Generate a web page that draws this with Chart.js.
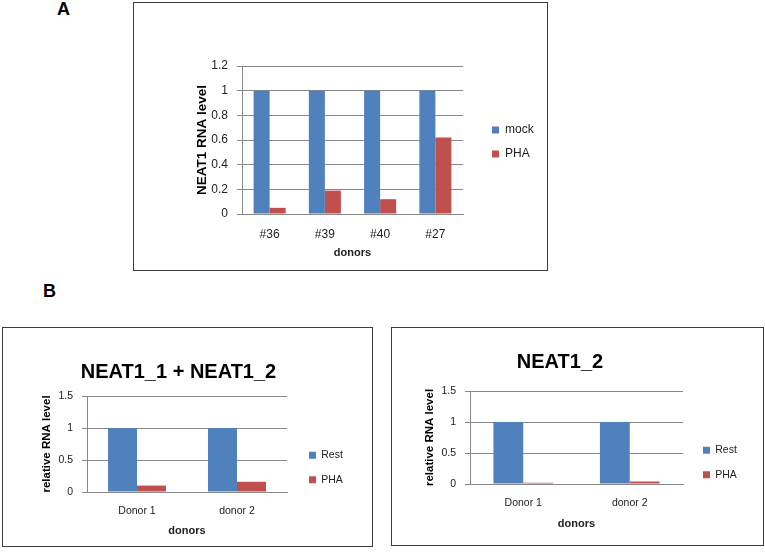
<!DOCTYPE html>
<html>
<head>
<meta charset="utf-8">
<script src="https://cdn.jsdelivr.net/npm/chart.js@4"></script>
<style>
  body { margin: 0; background: #fff; font-family: "Liberation Sans", Arial, sans-serif; }
  .frame { position: absolute; box-sizing: border-box; border: 1px solid #3c3c3c; }
  .panel { position: absolute; font-weight: bold; font-size: 18px; line-height: 18px; color: #000; }
  canvas { position: absolute; }
</style>
</head>
<body>
<div class="panel" style="left:57px; top:0px;">A</div>
<div class="panel" style="left:43px; top:282px;">B</div>

<div class="frame" style="left:133px; top:2px; width:415px; height:269px;"></div>
<canvas id="chartA" width="413" height="267" style="left:134px; top:3px;"></canvas>

<div class="frame" style="left:2px; top:327px; width:371px; height:220px;"></div>
<canvas id="chartB1" width="369" height="218" style="left:3px; top:328px;"></canvas>

<div class="frame" style="left:391px; top:327px; width:373px; height:219px;"></div>
<canvas id="chartB2" width="371" height="217" style="left:392px; top:328px;"></canvas>

<script>
// panel A
const donorsA = ["#36", "#39", "#40", "#27"];
const mockA = [1, 1, 1, 1];
const phaA = [0.05, 0.19, 0.12, 0.62];
const yTicksA = ["0", "0.2", "0.4", "0.6", "0.8", "1", "1.2"];

// panel B
const donorsB = ["Donor 1", "donor 2"];
const restB1 = [1, 1];
const phaB1 = [0.1, 0.16];
const restB2 = [1, 1];
const phaB2 = [0.02, 0.04];
const yTicksB = ["0", "0.5", "1", "1.5"];

const BLUE = "#4F81BD";
const RED = "#C0504D";
const GRID = "#888888";
const FONT = "'Liberation Sans', Arial, sans-serif";

// moves title / legend to where the original figure has them
function placeBoxes(titleShift, legendLeft, legendTop) {
  return {
    id: "placeBoxes",
    afterLayout(chart) {
      const t = chart.titleBlock;
      if (t && titleShift) {
        t.left += titleShift;
        t.right += titleShift;
      }
      const lg = chart.legend;
      if (lg) {
        const w = lg.width;
        lg.left = legendLeft;
        lg.right = legendLeft + w;
        lg.top = legendTop;
        lg.bottom = legendTop + 200;
      }
    }
  };
}

function makeChart(id, cfg) {
  const yLabels = cfg.yLabels;
  return new Chart(document.getElementById(id), {
    type: "bar",
    data: {
      labels: cfg.labels,
      datasets: [
        { label: cfg.names[0], data: cfg.series[0], backgroundColor: BLUE, borderWidth: 0 },
        { label: cfg.names[1], data: cfg.series[1], backgroundColor: RED, borderWidth: 0 }
      ]
    },
    options: {
      responsive: false,
      animation: false,
      events: [],
      categoryPercentage: cfg.catPct,
      barPercentage: 1,
      layout: { padding: cfg.padding },
      plugins: {
        tooltip: { enabled: false },
        title: {
          display: !!cfg.title,
          text: cfg.title || "",
          color: "#000",
          font: { family: FONT, size: 20, weight: "bold" },
          padding: cfg.titlePad || { top: 0, bottom: 0 }
        },
        legend: {
          position: "chartArea",
          align: "start",
          labels: {
            boxWidth: 7,
            boxHeight: 7,
            padding: cfg.legendPad,
            color: "#222",
            font: { family: FONT, size: cfg.legendFont }
          }
        }
      },
      scales: {
        x: {
          grid: { display: false, drawTicks: false },
          border: { color: GRID, width: 1 },
          ticks: { color: "#222", padding: 13, font: { family: FONT, size: cfg.tickFont } },
          title: {
            display: true,
            text: "donors",
            color: "#222",
            padding: { top: 0, bottom: 0 },
            font: { family: FONT, size: 11, weight: "bold" }
          },
          afterFit(s) { s.height = cfg.xHeight; }
        },
        y: {
          min: 0,
          max: cfg.yMax,
          grid: { color: GRID, lineWidth: 1, tickLength: 5 },
          border: { color: GRID, width: 1 },
          ticks: {
            stepSize: cfg.yStep,
            color: "#222",
            padding: 9,
            font: { family: FONT, size: cfg.tickFont },
            callback: (v, i) => yLabels[i]
          },
          title: {
            display: true,
            text: cfg.yTitle,
            color: "#000",
            padding: { top: 2, bottom: 0 },
            font: { family: FONT, size: cfg.yTitleFont, weight: "bold" }
          },
          afterFit(s) { s.width = cfg.yWidth; }
        }
      }
    },
    plugins: [placeBoxes(cfg.titleShift, cfg.legendLeft, cfg.legendTop)]
  });
}

makeChart("chartA", {
  labels: donorsA,
  names: ["mock", "PHA"],
  series: [mockA, phaA],
  yLabels: yTicksA,
  yMax: 1.2,
  yStep: 0.2,
  yTitle: "NEAT1 RNA level",
  yTitleFont: 13.5,
  tickFont: 12,
  legendFont: 12,
  legendPad: 12,
  catPct: 0.58,
  padding: { left: 58, right: 84, top: 63, bottom: 10 },
  yWidth: 50,
  xHeight: 46,
  titleShift: 0,
  legendLeft: 346,
  legendTop: 109
});

makeChart("chartB1", {
  labels: donorsB,
  names: ["Rest", "PHA"],
  series: [restB1, phaB1],
  yLabels: yTicksB,
  yMax: 1.5,
  yStep: 0.5,
  yTitle: "relative RNA level",
  yTitleFont: 11.5,
  tickFont: 10.5,
  legendFont: 10.5,
  legendPad: 14,
  catPct: 0.58,
  title: "NEAT1_1 + NEAT1_2",
  titlePad: { top: 0, bottom: 12 },
  padding: { left: 35, right: 85, top: 32, bottom: 8 },
  yWidth: 49,
  xHeight: 46,
  titleShift: 16,
  legendLeft: 292,
  legendTop: 108
});

makeChart("chartB2", {
  labels: donorsB,
  names: ["Rest", "PHA"],
  series: [restB2, phaB2],
  yLabels: yTicksB,
  yMax: 1.5,
  yStep: 0.5,
  yTitle: "relative RNA level",
  yTitleFont: 11.5,
  tickFont: 10.5,
  legendFont: 10.5,
  legendPad: 14,
  catPct: 0.56,
  title: "NEAT1_2",
  titlePad: { top: 0, bottom: 17 },
  padding: { left: 29, right: 80, top: 22, bottom: 14 },
  yWidth: 49,
  xHeight: 47,
  titleShift: 8,
  legendLeft: 297,
  legendTop: 103
});
</script>
</body>
</html>
